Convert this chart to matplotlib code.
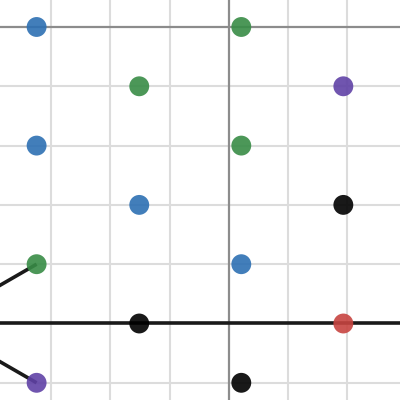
import matplotlib
matplotlib.use('Agg')
import matplotlib.pyplot as plt
import numpy as np

# point positions (graph units) and colours
point_x = [-3.24, 0.21, -1.51, 1.93, -3.24, 0.21, -1.51, 1.93, -3.24, 0.21, -1.51, 1.93, -3.24, 0.21]
point_y = [0, 0, -1, -1, -2, -2, -3, -3, -4, -4, -5, -5, -6, -6]
point_c = ['#2d70b3', '#388c46', '#388c46', '#6042a6', '#2d70b3', '#388c46', '#2d70b3', '#000000',
           '#388c46', '#2d70b3', '#000000', '#c74440', '#6042a6', '#000000']

# black line through y = -5, and the two slanted segments at the left edge
hline_y = -5
seg_x = [[-3.24, -4.24], [-3.24, -4.24]]
seg_y = [[-4, -4.577], [-6, -5.423]]

fig = plt.figure(figsize=(4, 4), dpi=100)
ax = fig.add_axes([0, 0, 1, 1])
ax.set_xlim(-3.857, 2.885)
ax.set_ylim(-6.29, 0.455)

# grid
for gx in range(-3, 3):
    if gx != 0:
        ax.axvline(gx, color='#dcdcdc', lw=1.5, zorder=0)
for gy in range(-6, 1):
    if gy != 0:
        ax.axhline(gy, color='#dcdcdc', lw=1.5, zorder=0)
ax.axvline(0, color='#8c8c8c', lw=1.6, zorder=1)
ax.axhline(0, color='#8c8c8c', lw=1.6, zorder=1)

ax.axhline(hline_y, color='#1a1a1a', lw=2.6, zorder=2)
for sx, sy in zip(seg_x, seg_y):
    ax.plot(sx, sy, color='#1a1a1a', lw=2.6, zorder=2, solid_capstyle='butt')

ax.scatter(point_x, point_y, c=point_c, s=205, alpha=0.9, linewidths=0, zorder=3)

ax.set_xticks([])
ax.set_yticks([])
for s in ax.spines.values():
    s.set_visible(False)

plt.savefig('out.png', dpi=100)
